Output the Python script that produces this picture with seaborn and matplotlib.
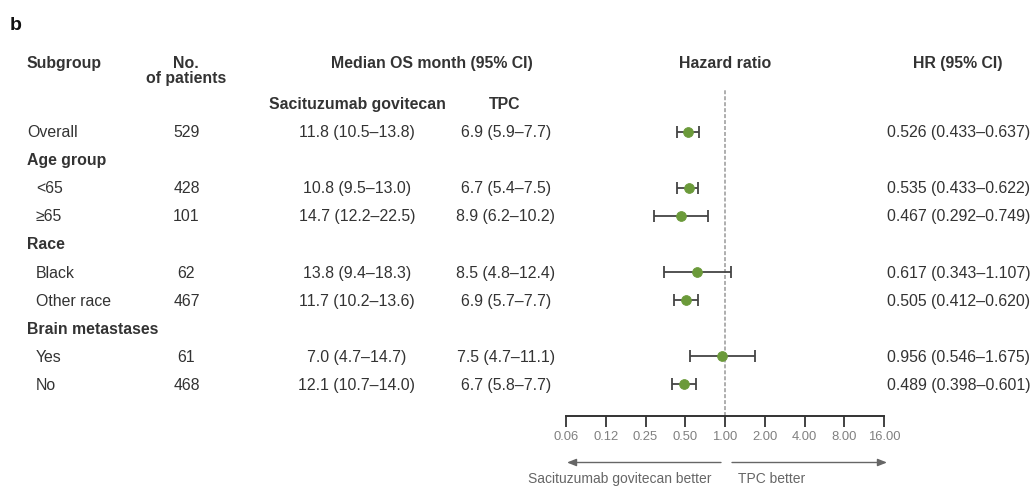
import numpy as np
import pandas as pd
import matplotlib
matplotlib.use("Agg")
import matplotlib.pyplot as plt
import seaborn as sns
from matplotlib.patches import FancyArrowPatch
from matplotlib.ticker import NullLocator

# ---------------- data ----------------
row_labels = ["Overall", "Age group", "<65", "\u226565", "Race", "Black", "Other race",
              "Brain metastases", "Yes", "No"]
row_is_group = [False, True, False, False, True, False, False, True, False, False]
n_patients = [529, None, 428, 101, None, 62, 467, None, 61, 468]

sg_median = [11.8, np.nan, 10.8, 14.7, np.nan, 13.8, 11.7, np.nan, 7.0, 12.1]
sg_lo = [10.5, np.nan, 9.5, 12.2, np.nan, 9.4, 10.2, np.nan, 4.7, 10.7]
sg_hi = [13.8, np.nan, 13.0, 22.5, np.nan, 18.3, 13.6, np.nan, 14.7, 14.0]

tpc_median = [6.9, np.nan, 6.7, 8.9, np.nan, 8.5, 6.9, np.nan, 7.5, 6.7]
tpc_lo = [5.9, np.nan, 5.4, 6.2, np.nan, 4.8, 5.7, np.nan, 4.7, 5.8]
tpc_hi = [7.7, np.nan, 7.5, 10.2, np.nan, 12.4, 7.7, np.nan, 11.1, 7.7]

hr = [0.526, np.nan, 0.535, 0.467, np.nan, 0.617, 0.505, np.nan, 0.956, 0.489]
hr_lo = [0.433, np.nan, 0.433, 0.292, np.nan, 0.343, 0.412, np.nan, 0.546, 0.398]
hr_hi = [0.637, np.nan, 0.622, 0.749, np.nan, 1.107, 0.620, np.nan, 1.675, 0.601]

tick_values = [0.0625, 0.125, 0.25, 0.5, 1, 2, 4, 8, 16]
tick_labels = ["0.06", "0.12", "0.25", "0.50", "1.00", "2.00", "4.00", "8.00", "16.00"]

# ---------------- style ----------------
sns.set_theme(style="white")
plt.rcParams["font.family"] = ["Liberation Sans", "DejaVu Sans"]

TXT = "#333333"
GREEN = "#6b9a3a"
BAR = "#444444"
W, H = 1033, 486
ROW0, STEP = 131.7, 28.03      # pixel centre of first row and row pitch
FS = 11.4
CAP_HALF = 0.716 * FS * 100 / 72 / 2   # half cap height in px


def row_px(i):
    return ROW0 + STEP * i


def px2row(y):
    return (y - ROW0) / STEP


fig = plt.figure(figsize=(W / 100, H / 100), dpi=100)
fig.patch.set_facecolor("white")
ax = fig.add_axes([566 / W, 1 - 416 / H, 318 / W, 326 / H])
ax.set_facecolor("none")

rows = np.arange(len(row_labels), dtype=float)
df = pd.DataFrame({"row": rows, "hr": hr, "lo": hr_lo, "hi": hr_hi}).dropna()

ax.errorbar(df["hr"], df["row"], xerr=[df["hr"] - df["lo"], df["hi"] - df["hr"]],
            fmt="none", ecolor=BAR, elinewidth=1.3, capsize=4.2, capthick=1.3, zorder=2)
sns.scatterplot(data=df, x="hr", y="row", ax=ax, color=GREEN, edgecolor=GREEN,
                s=50, zorder=3, legend=False)

ax.set_xscale("log", base=2)
ax.set_xlim(tick_values[0], tick_values[-1])
ax.set_ylim(px2row(416), px2row(90))
ax.axvline(1, color="#999999", lw=1.1, ls=(0, (2.6, 1.3)), zorder=1)

for s in ["left", "right", "top"]:
    ax.spines[s].set_visible(False)
ax.spines["bottom"].set_color(TXT)
ax.spines["bottom"].set_linewidth(1.4)
ax.set_xticks(tick_values)
ax.set_xticklabels(tick_labels)
ax.xaxis.set_minor_locator(NullLocator())
ax.set_yticks([])
ax.set_xlabel("")
ax.set_ylabel("")
ax.tick_params(axis="x", bottom=True, direction="out", length=7.8, width=1.3,
               color=TXT, labelcolor="#808080", labelsize=9.4, pad=3.0)


# ---------------- text table ----------------
def put(xpx, ypx, s, ha="left", bold=False, size=FS, color=TXT):
    fig.text(xpx / W, 1 - (ypx + CAP_HALF) / H, s, ha=ha, va="baseline", fontsize=size,
             fontweight="bold" if bold else "normal", color=color)


# headers
put(27, 62, "Subgroup", bold=True)
fig.text(186 / W, 1 - 55.8 / H, "No.\nof patients", ha="center", va="top",
         multialignment="center", linespacing=1.0, fontsize=FS, fontweight="bold",
         color=TXT)
put(432, 62.5, "Median OS month (95% CI)", ha="center", bold=True)
put(357, 103.7, "Sacituzumab govitecan", ha="center", bold=True)
put(505, 103.7, "TPC", ha="center", bold=True)
put(725, 62.5, "Hazard ratio", ha="center", bold=True)
put(958, 62.5, "HR (95% CI)", ha="center", bold=True)

for i, lab in enumerate(row_labels):
    y = row_px(i)
    if row_is_group[i]:
        put(27, y, lab, bold=True)
        continue
    put(27 if i == 0 else 36, y, lab)
    put(186.5, y, f"{n_patients[i]}", ha="center")
    put(357, y, f"{sg_median[i]:.1f} ({sg_lo[i]:.1f}\u2013{sg_hi[i]:.1f})", ha="center")
    put(506, y, f"{tpc_median[i]:.1f} ({tpc_lo[i]:.1f}\u2013{tpc_hi[i]:.1f})", ha="center")
    put(958.5, y, f"{hr[i]:.3f} ({hr_lo[i]:.3f}\u2013{hr_hi[i]:.3f})", ha="center")

# panel letter
fig.text(10 / W, 1 - 30 / H, "b", fontsize=14, fontweight="bold", color="#111111",
         ha="left", va="baseline")

# arrows
arr = dict(arrowstyle="-|>,head_length=0.55,head_width=0.22", color="#666666", lw=1.0,
           shrinkA=0, shrinkB=0, mutation_scale=10, transform=fig.transFigure)
fig.add_artist(FancyArrowPatch((721 / W, 1 - 462.5 / H), (567 / W, 1 - 462.5 / H), **arr))
fig.add_artist(FancyArrowPatch((732 / W, 1 - 462.5 / H), (887 / W, 1 - 462.5 / H), **arr))
fig.text(712 / W, 1 - 482.5 / H, "Sacituzumab govitecan better", ha="right", va="baseline",
         fontsize=10, color="#666666")
fig.text(738 / W, 1 - 482.5 / H, "TPC better", ha="left", va="baseline",
         fontsize=10, color="#666666")

fig.savefig("out.png", dpi=100, facecolor="white")
